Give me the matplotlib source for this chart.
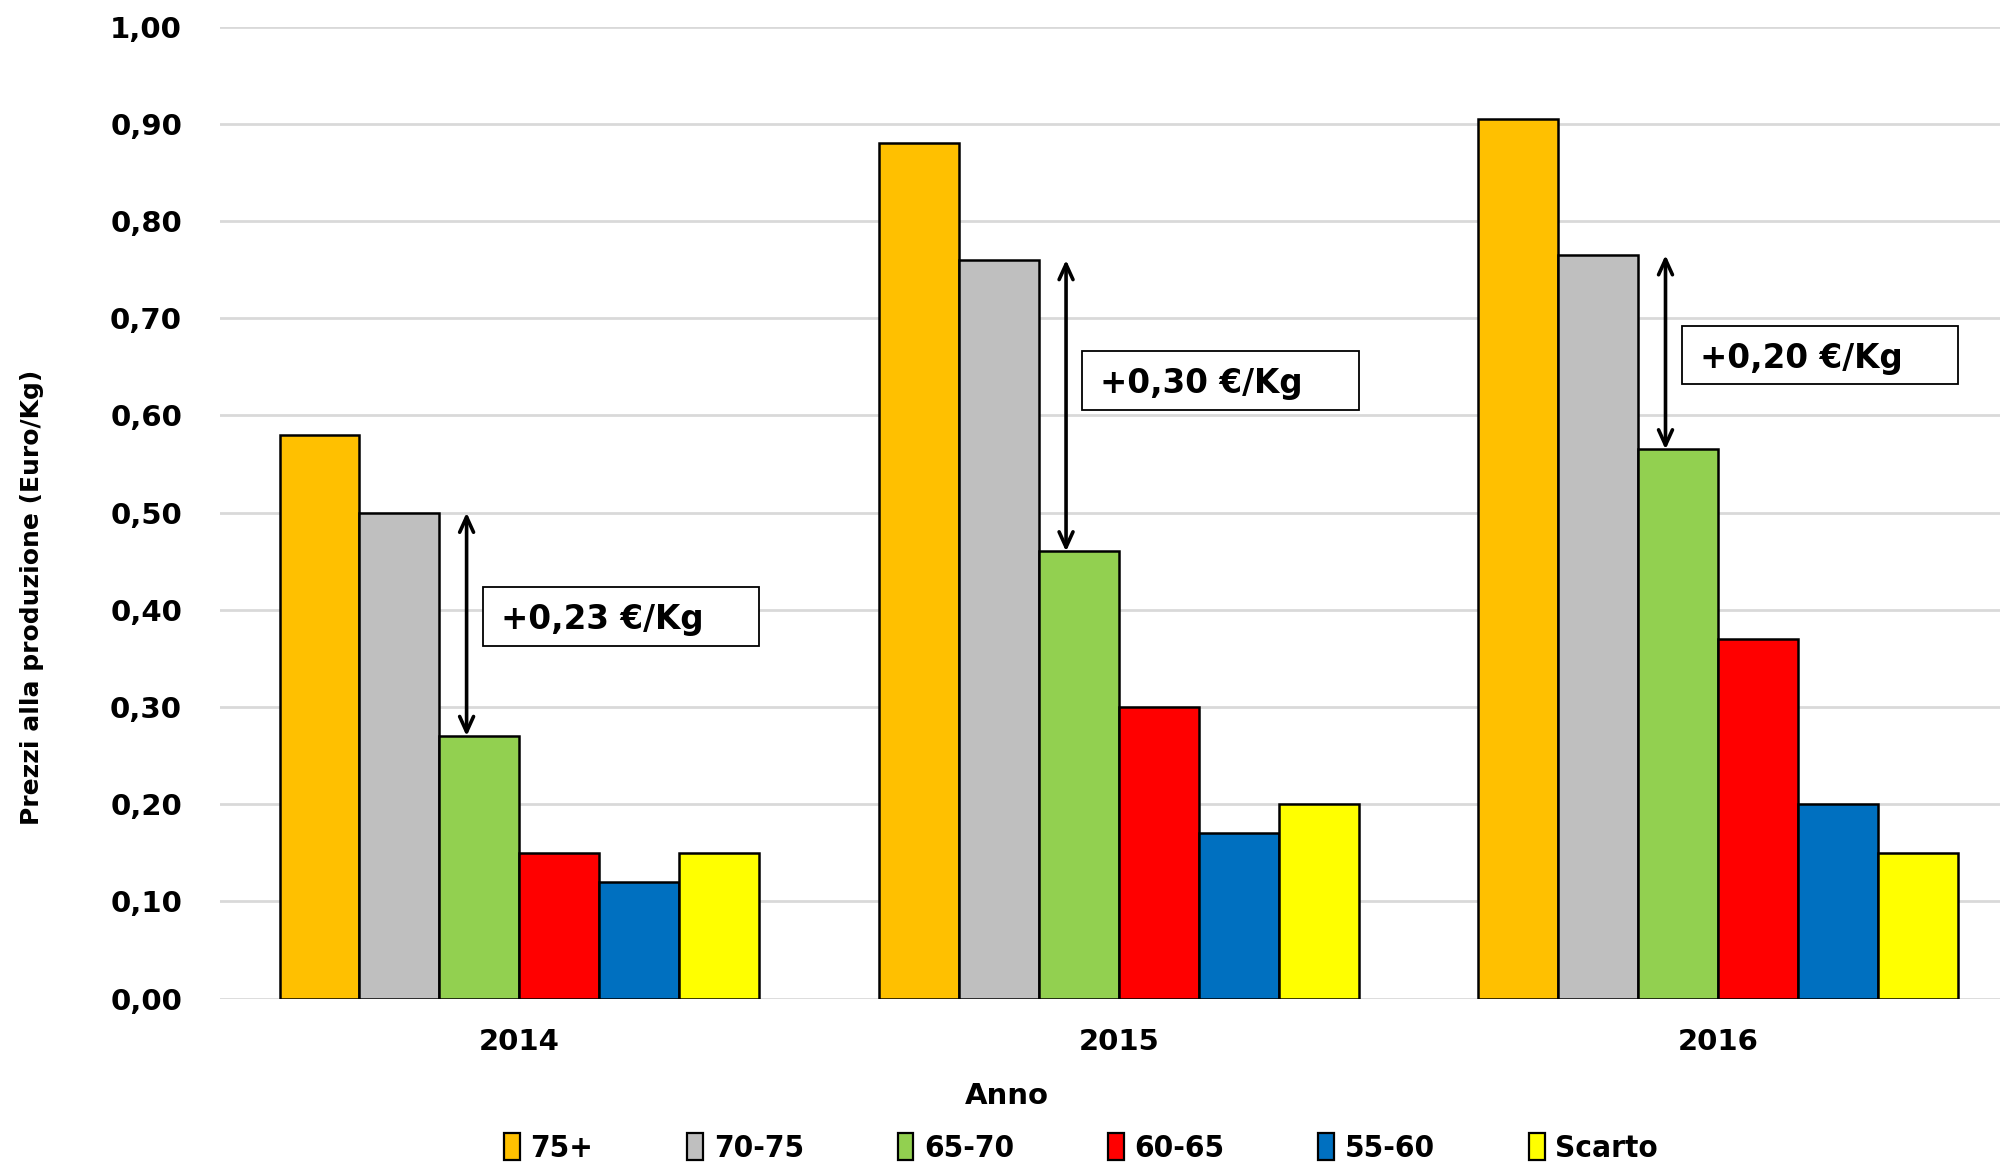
import matplotlib
matplotlib.use('Agg')
import matplotlib.pyplot as plt
from matplotlib.patches import Rectangle
import numpy as np

# Data
years = ['2014', '2015', '2016']
classes = ['75+', '70-75', '65-70', '60-65', '55-60', 'Scarto']
prices_75 = [0.58, 0.88, 0.905]
prices_70_75 = [0.50, 0.76, 0.765]
prices_65_70 = [0.27, 0.46, 0.565]
prices_60_65 = [0.15, 0.30, 0.37]
prices_55_60 = [0.12, 0.17, 0.20]
prices_scarto = [0.15, 0.20, 0.15]
colors = ['#FFC000', '#BFBFBF', '#92D050', '#FF0000', '#0070C0', '#FFFF00']

# Gap between 70-75 and 65-70 classes
gap_labels = ['+0,23 €/Kg', '+0,30 €/Kg', '+0,20 €/Kg']
box_bottom = [0.363, 0.606, 0.632]

series = [prices_75, prices_70_75, prices_65_70, prices_60_65, prices_55_60, prices_scarto]

plt.rcParams['font.family'] = ['DejaVu Sans']

fig = plt.figure(figsize=(20.02, 11.62), dpi=100)
ax = fig.add_axes([0.1097, 0.1407, 0.8893, 0.8363])

x = np.arange(len(years))
width = 0.8 / len(series)
for i, (vals, name, col) in enumerate(zip(series, classes, colors)):
    ax.bar(x + (i - 2.5) * width, vals, width, color=col, edgecolor='black',
           linewidth=1.8, label=name, zorder=3)

# Arrows and boxes
for k in range(len(years)):
    top = prices_70_75[k]
    bot = prices_65_70[k]
    ax.annotate('', xy=(x[k] - 0.088, bot), xytext=(x[k] - 0.088, top),
                arrowprops=dict(arrowstyle='<->,head_length=1.1,head_width=0.5',
                                color='black', lw=2.6, shrinkA=0, shrinkB=0),
                zorder=4)
    ax.add_patch(Rectangle((x[k] - 0.061, box_bottom[k]), 0.461, 0.06,
                           facecolor='white', edgecolor='black', linewidth=1.3, zorder=5))
    ax.text(x[k] - 0.031, box_bottom[k] + 0.027, gap_labels[k], fontsize=23.5,
            fontweight='bold', va='center', ha='left', zorder=6)

ax.set_xlim(-0.5, 2.47)
ax.set_ylim(0, 1.0)
ax.set_yticks(np.arange(0, 1.01, 0.1))
ax.set_yticklabels([f'{v:.2f}'.replace('.', ',') for v in np.arange(0, 1.01, 0.1)])
ax.set_xticks(x)
ax.set_xticklabels(years)
ax.tick_params(axis='y', length=0, pad=27, labelsize=21)
ax.tick_params(axis='x', length=0, pad=21, labelsize=21)
for lab in ax.get_xticklabels() + ax.get_yticklabels():
    lab.set_fontweight('bold')
ax.grid(axis='y', color='#D9D9D9', linewidth=2, zorder=0)
for s in ax.spines.values():
    s.set_visible(False)

fig.text(0.016, 0.486, 'Prezzi alla produzione (Euro/Kg)', rotation=90,
         fontsize=18, fontweight='bold', ha='center', va='center')
fig.text(0.503, 0.057, 'Anno', fontsize=21, fontweight='bold', ha='center', va='center')

leg = fig.legend(loc='center', bbox_to_anchor=(0.54, 0.012), ncol=6, frameon=False,
                 prop={'size': 22.5, 'weight': 'bold', 'stretch': 'condensed'},
                 handlelength=0.5, handleheight=0.95, handletextpad=0.35,
                 columnspacing=3.0)
for h in leg.legend_handles:
    h.set_linewidth(1.6)

fig.savefig('out.png', dpi=100)
